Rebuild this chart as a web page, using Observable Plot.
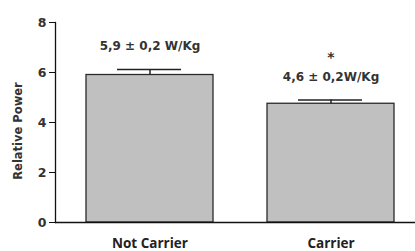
<!DOCTYPE html>
<html><head><meta charset="utf-8">
<script src="https://cdn.jsdelivr.net/npm/d3@7"></script>
<script src="https://cdn.jsdelivr.net/npm/@observablehq/plot@0.6"></script>
<style>
body{margin:0;background:#fff;}
svg{display:block;}
</style>
</head><body><div id="chart"></div>
<script>
const groups = ["Not Carrier", "Carrier"];
const means = [5.9, 4.75];
const errors = [0.22, 0.15];
const labels = ["5,9 ± 0,2 W/Kg", "4,6 ± 0,2W/Kg"];
const stars = ["", "*"];
const yTicks = [0, 2, 4, 6, 8];

const data = groups.map((g, i) => ({group: g, mean: means[i], err: errors[i], top: means[i] + errors[i], label: labels[i], star: stars[i]}));

const font = "DejaVu Sans, Verdana, sans-serif";
const chart = Plot.plot({
  width: 415, height: 251,
  marginLeft: 55, marginRight: 0, marginTop: 22, marginBottom: 29,
  style: {fontFamily: font, background: "#fff"},
  x: {domain: groups, range: [85, 394], paddingInner: 0.3, paddingOuter: 0, label: null},
  y: {domain: [0, 8], label: null},
  marks: [
    Plot.barY(data, {x: "group", y: "mean", fill: "#c0c0c0", stroke: "#2a2a2a", strokeWidth: 1.3}),
    Plot.ruleX(data, {x: "group", y1: "mean", y2: "top", stroke: "#222", strokeWidth: 1.5}),
    Plot.tickY(data, {x: "group", y: "top", stroke: "#222", strokeWidth: 1.5, insetLeft: 31, insetRight: 32}),
    Plot.text(data, {x: "group", y: "top", text: "label", dy: -23, fontSize: 12, fontWeight: "bold", fill: "#333", fontFamily: font}),
    Plot.text(data, {x: "group", y: "top", text: "star", dy: -42, fontSize: 14, fontWeight: "bold", fill: "#333", fontFamily: font}),
    Plot.frame({anchor: "left", stroke: "#111", strokeWidth: 1.3}),
    Plot.ruleY([0], {stroke: "#111", strokeWidth: 1.3}),
    Plot.axisY({ticks: yTicks, tickSize: 6, tickPadding: 3, tickFormat: d => d, fontSize: 12.5, fontWeight: "bold", stroke: "#111", fill: "#333", label: null}),
    Plot.axisX({tickSize: 0, tickPadding: 0, dy: 21, textAnchor: "middle", lineAnchor: "middle", fontSize: 13.5, fontWeight: "bold", fill: "#222", fontFamily: "Open Sans, sans-serif", label: null})
  ]
});
const svg = d3.select(chart);
svg.append("text")
  .attr("transform", "translate(18,131) rotate(-90)")
  .attr("text-anchor", "middle")
  .attr("dominant-baseline", "middle")
  .attr("font-family", font)
  .attr("font-size", 11.5)
  .attr("font-weight", "bold")
  .attr("style", "fill:#333333")
  .text("Relative Power");
document.getElementById("chart").appendChild(chart);
</script>
</body></html>
